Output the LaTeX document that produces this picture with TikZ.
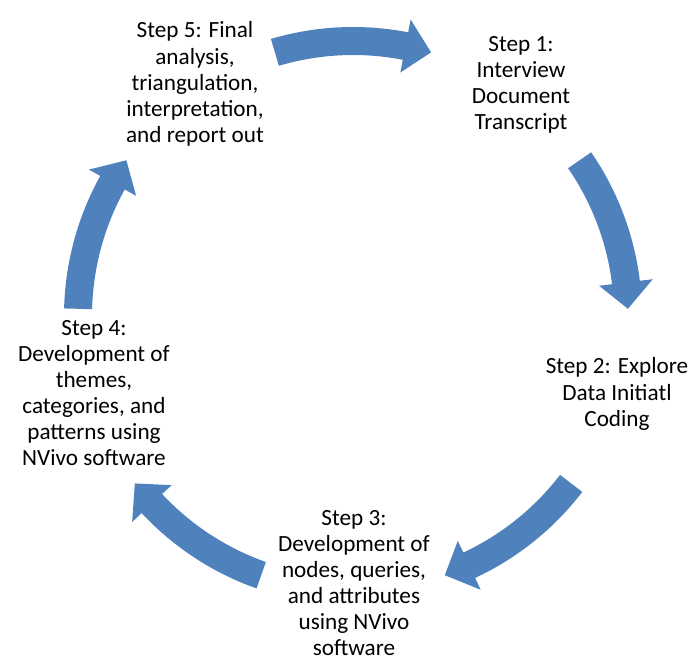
\documentclass[tikz,border=0pt]{standalone}
\usepackage{fontspec}
\setmainfont{Carlito}
\definecolor{arrowblue}{RGB}{79,129,189}

\begin{document}
\begin{tikzpicture}[x=0.02cm,y=0.02cm,
	steptext/.style={align=center,inner sep=0pt,font=\fontsize{13.2}{14.9}\selectfont},
	cyclearrow/.pic={
		\fill[arrowblue] (16.5:289) arc[start angle=16.5,end angle=-11,radius=289]
			-- (-11:302) -- (-16.5:275) -- (-11:248) -- (-11:261)
			arc[start angle=-11,end angle=16.5,radius=261] -- cycle;
	}]
		\useasboundingbox (0,0) rectangle (692,-660);
		\coordinate (hub) at (353,-316);

		\node[steptext] (s1) at (521,-85) {Step 1:\\Interview\\Document\\Transcript};
		\node[steptext] (s2) at (617,-394) {Step 2: Explore\\Data Initiatl\\Coding};
		\node[steptext] (s3) at (354,-583) {Step 3:\\Development of\\nodes, queries,\\and attributes\\using NVivo\\software};
		\node[steptext] (s4) at (94,-393) {Step 4:\\Development of\\themes,\\categories, and\\patterns using\\NVivo software};
		\node[steptext] (s5) at (195,-84) {Step 5: Final\\analysis,\\triangulation,\\interpretation,\\and report out};

		\pic[rotate=90] at (hub) {cyclearrow};
		\pic[rotate=18] at (hub) {cyclearrow};
		\pic[rotate=-54] at (hub) {cyclearrow};
		\pic[rotate=-126] at (hub) {cyclearrow};
		\pic[rotate=162] at (hub) {cyclearrow};
	\end{tikzpicture}
\end{document}
